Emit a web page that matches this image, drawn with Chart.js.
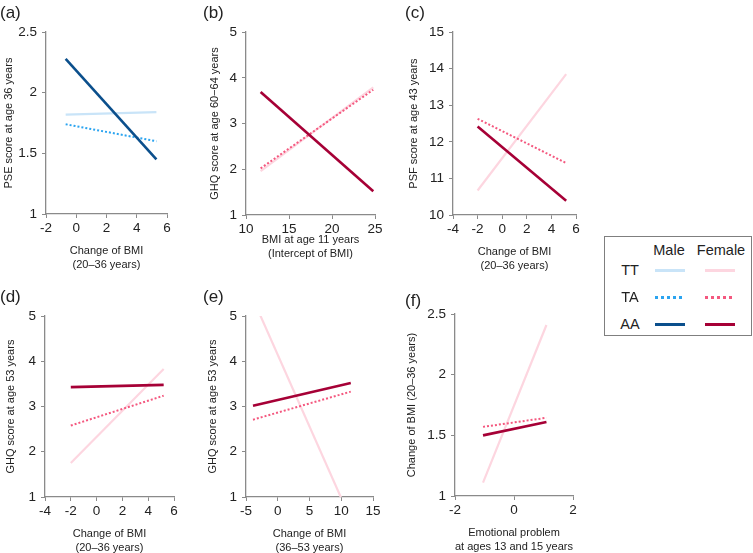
<!DOCTYPE html>
<html>
<head>
<meta charset="utf-8">
<script src="https://cdn.jsdelivr.net/npm/chart.js@4"></script>
<style>
  body { margin: 0; background: #fff; font-family: "Liberation Sans", Arial, sans-serif; color: #222; }
  #wrap { position: relative; width: 753px; height: 553px; overflow: hidden; }
  canvas { position: absolute; }
  .tag { position: absolute; font-size: 17px; line-height: 1; }
  #legend { position: absolute; left: 604px; top: 236px; width: 146px; height: 98px; border: 1.5px solid #7f7f7f; }
  .lt { position: absolute; font-size: 14.5px; line-height: 1; transform: translate(-50%, -50%); white-space: nowrap; }
  .ls { position: absolute; width: 30px; height: 3px; margin-top: -1.5px; }
</style>
</head>
<body>
<div id="wrap">
  <canvas id="pa"></canvas>
  <canvas id="pb"></canvas>
  <canvas id="pc"></canvas>
  <canvas id="pd"></canvas>
  <canvas id="pe"></canvas>
  <canvas id="pf"></canvas>
  <div class="tag" style="left:0px;top:4px">(a)</div>
  <div class="tag" style="left:203px;top:4px">(b)</div>
  <div class="tag" style="left:405px;top:4px">(c)</div>
  <div class="tag" style="left:0px;top:288px">(d)</div>
  <div class="tag" style="left:203px;top:288px">(e)</div>
  <div class="tag" style="left:405px;top:292px">(f)</div>
  <div id="legend"></div>
</div>
<script>
// colours per genotype
const maleColors = { TT: "#c9e4f8", TA: "#2ba4f0", AA: "#0b4f8c" };
const femaleColors = { TT: "#fdd6e0", TA: "#f4587f", AA: "#a60036" };

// (a) PSE score at age 36, male
const aX = [-0.7, 5.3];
const aMaleTT = [1.82, 1.84];
const aMaleTA = [1.74, 1.6];
const aMaleAA = [2.28, 1.45];
const aXTicks = [-2, 0, 2, 4, 6];
const aYTicks = [1, 1.5, 2, 2.5];

// (b) GHQ score at age 60-64, female
const bX = [11.7, 24.8];
const bFemaleTT = [1.96, 3.79];
const bFemaleTA = [2.02, 3.74];
const bFemaleAA = [3.69, 1.52];
const bXTicks = [10, 15, 20, 25];
const bYTicks = [1, 2, 3, 4, 5];

// (c) PSF score at age 43, female
const cX = [-2, 5.2];
const cFemaleTT = [10.67, 13.85];
const cFemaleTA = [12.63, 11.42];
const cFemaleAA = [12.42, 10.39];
const cXTicks = [-4, -2, 0, 2, 4, 6];
const cYTicks = [10, 11, 12, 13, 14, 15];

// (d) GHQ score at age 53, female
const dX = [-2, 5.2];
const dFemaleTT = [1.75, 3.83];
const dFemaleTA = [2.58, 3.24];
const dFemaleAA = [3.43, 3.48];
const dXTicks = [-4, -2, 0, 2, 4, 6];
const dYTicks = [1, 2, 3, 4, 5];

// (e) GHQ score at age 53 vs change of BMI 36-53, female
const eX = [-3.9, 11.5];
const eFemaleTT = [5.38, 0.5];
const eFemaleTA = [2.71, 3.33];
const eFemaleAA = [3.02, 3.52];
const eXTicks = [-5, 0, 5, 10, 15];
const eYTicks = [1, 2, 3, 4, 5];

// (f) change of BMI vs emotional problem, female
const fX = [-1.05, 1.1];
const fFemaleTT = [1.11, 2.41];
const fFemaleTA = [1.57, 1.645];
const fFemaleAA = [1.5, 1.61];
const fXTicks = [-2, 0, 2];
const fYTicks = [1, 1.5, 2, 2.5];

Chart.defaults.font.family = '"Liberation Sans", Arial, sans-serif';
Chart.defaults.color = '#222';

const axisGrey = '#8a8a8a';

function garis(xs, ys, warna, jenis) {
  return {
    data: xs.map((x, i) => ({ x: x, y: ys[i] })),
    borderColor: warna,
    borderWidth: jenis === 'AA' ? 2.6 : (jenis === 'TT' ? 2.2 : 2),
    borderDash: jenis === 'TA' ? [2, 2] : [],
    borderCapStyle: 'butt',
    pointRadius: 0,
    tension: 0,
    fill: false
  };
}

function buatPanel(id, p) {
  const cv = document.getElementById(id);
  const left = p.titleX - 9;
  const wY = p.axisL - left;
  const top = p.axisT - 10;
  const width = p.axisR + 10 - left;
  const height = p.axisB + 60 - top;
  cv.width = width;
  cv.height = height;
  cv.style.left = left + 'px';
  cv.style.top = top + 'px';

  const warna = p.sex === 'male' ? maleColors : femaleColors;

  new Chart(cv.getContext('2d'), {
    type: 'line',
    data: {
      datasets: [
        garis(p.x, p.AA, warna.AA, 'AA'),
        garis(p.x, p.TA, warna.TA, 'TA'),
        garis(p.x, p.TT, warna.TT, 'TT')
      ]
    },
    options: {
      responsive: false,
      animation: false,
      layout: { padding: { top: 10, right: 10, left: 0, bottom: 0 } },
      plugins: { legend: { display: false }, tooltip: { enabled: false } },
      scales: {
        x: {
          type: 'linear',
          min: p.xTicks[0],
          max: p.xTicks[p.xTicks.length - 1],
          afterBuildTicks: s => { s.ticks = p.xTicks.map(v => ({ value: v })); },
          afterFit: s => { s.height = 60; },
          ticks: { font: { size: 13.5 }, padding: 2, maxRotation: 0, callback: v => String(v) },
          grid: { display: true, drawOnChartArea: false, drawTicks: true, tickLength: 4, color: axisGrey, lineWidth: 1 },
          border: { display: true, color: axisGrey, width: 1.3 },
          title: { display: true, text: p.xTitle, font: { size: 11, lineHeight: 1.3 }, padding: { top: 0, bottom: p.xTitlePad } }
        },
        y: {
          min: p.yTicks[0],
          max: p.yTicks[p.yTicks.length - 1],
          afterBuildTicks: s => { s.ticks = p.yTicks.map(v => ({ value: v })); },
          afterFit: s => { s.width = wY; },
          ticks: { font: { size: 13.5 }, padding: 5, callback: v => String(v) },
          grid: { display: true, drawOnChartArea: false, drawTicks: true, tickLength: 4, color: axisGrey, lineWidth: 1 },
          border: { display: true, color: axisGrey, width: 1.3 },
          title: { display: true, text: p.yTitle, font: { size: 11, lineHeight: 1.3 }, padding: { top: 2, bottom: 0 } }
        }
      }
    }
  });
}

buatPanel('pa', { sex: 'male', x: aX, TT: aMaleTT, TA: aMaleTA, AA: aMaleAA, xTicks: aXTicks, yTicks: aYTicks,
  axisL: 46, axisR: 167, axisT: 29, axisB: 214, titleX: 9, xTitlePad: 2,
  xTitle: ['Change of BMI', '(20\u201336 years)'], yTitle: 'PSE score at age 36 years' });

buatPanel('pb', { sex: 'female', x: bX, TT: bFemaleTT, TA: bFemaleTA, AA: bFemaleAA, xTicks: bXTicks, yTicks: bYTicks,
  axisL: 246, axisR: 375, axisT: 29, axisB: 215, titleX: 215, xTitlePad: 14,
  xTitle: ['BMI at age 11 years', '(Intercept of BMI)'], yTitle: 'GHQ score at age 60\u221264 years' });

buatPanel('pc', { sex: 'female', x: cX, TT: cFemaleTT, TA: cFemaleTA, AA: cFemaleAA, xTicks: cXTicks, yTicks: cYTicks,
  axisL: 453, axisR: 576, axisT: 29, axisB: 215, titleX: 414, xTitlePad: 2,
  xTitle: ['Change of BMI', '(20\u201336 years)'], yTitle: 'PSF score at age 43 years' });

buatPanel('pd', { sex: 'female', x: dX, TT: dFemaleTT, TA: dFemaleTA, AA: dFemaleAA, xTicks: dXTicks, yTicks: dYTicks,
  axisL: 45, axisR: 174, axisT: 313, axisB: 497, titleX: 11, xTitlePad: 2,
  xTitle: ['Change of BMI', '(20\u201336 years)'], yTitle: 'GHQ score at age 53 years' });

buatPanel('pe', { sex: 'female', x: eX, TT: eFemaleTT, TA: eFemaleTA, AA: eFemaleAA, xTicks: eXTicks, yTicks: eYTicks,
  axisL: 246, axisR: 373, axisT: 313, axisB: 497, titleX: 213, xTitlePad: 2,
  xTitle: ['Change of BMI', '(36\u201353 years)'], yTitle: 'GHQ score at age 53 years' });

buatPanel('pf', { sex: 'female', x: fX, TT: fFemaleTT, TA: fFemaleTA, AA: fFemaleAA, xTicks: fXTicks, yTicks: fYTicks,
  axisL: 455, axisR: 573, axisT: 311, axisB: 496, titleX: 412, xTitlePad: 2,
  xTitle: ['Emotional problem', 'at ages 13 and 15 years'], yTitle: 'Change of BMI (20\u201336 years)' });

// Legend (HTML)
const legend = document.getElementById('legend');
const genotipe = ['TT', 'TA', 'AA'];
const barisY = [33, 60, 87];
function teks(str, x, y) {
  const el = document.createElement('div');
  el.className = 'lt';
  el.textContent = str;
  el.style.left = x + 'px';
  el.style.top = y + 'px';
  legend.appendChild(el);
}
function contoh(warna, jenis, x, y) {
  const el = document.createElement('div');
  el.className = 'ls';
  el.style.left = x + 'px';
  el.style.top = y + 'px';
  if (jenis === 'TA') {
    el.style.background = `repeating-linear-gradient(to right, ${warna} 0 3px, transparent 3px 6px)`;
  } else {
    el.style.background = warna;
  }
  legend.appendChild(el);
}
teks('Male', 64, 13);
teks('Female', 116, 13);
genotipe.forEach((g, i) => {
  teks(g, 25, barisY[i]);
  contoh(maleColors[g], g, 50, barisY[i]);
  contoh(femaleColors[g], g, 100, barisY[i]);
});
</script>
</body>
</html>
